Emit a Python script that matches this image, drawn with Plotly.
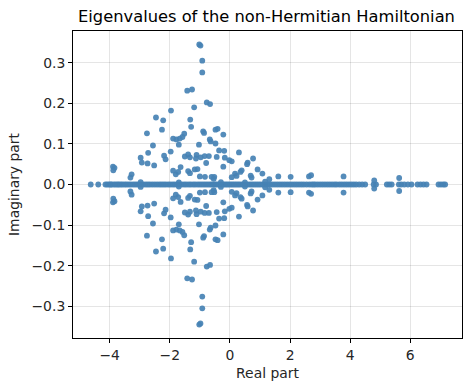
import plotly.graph_objects as go

# Real eigenvalues (imaginary part = 0)
real_eigs = [
    -4.63, -4.38,
    -4.14, -4.08, -4.02, -3.97, -3.93, -3.86, -3.80, -3.74, -3.69, -3.63, -3.57, -3.50,
    -3.44, -3.37, -3.30, -3.22, -3.15, -3.08, -3.01, -2.95, -2.88, -2.80, -2.73, -2.66,
    -2.58, -2.50, -2.42, -2.34, -2.27, -2.20, -2.13, -2.05, -1.98, -1.90, -1.83, -1.75,
    -1.68, -1.60, -1.52, -1.45, -1.37, -1.30, -1.22, -1.15, -1.07, -1.00, -0.93, -0.86,
    -0.79, -0.72, -0.65, -0.59, -0.52, -0.46, -0.40, -0.33, -0.27, -0.21, -0.15, -0.09,
    -0.03, 0.03, 0.09, 0.15, 0.21, 0.27, 0.33, 0.40, 0.46, 0.53, 0.60, 0.67, 0.74, 0.81,
    0.88, 0.95, 1.02, 1.10, 1.18, 1.26, 1.34, 1.42, 1.50, 1.58, 1.66, 1.74, 1.82, 1.90,
    1.98, 2.06, 2.14, 2.22, 2.30, 2.38, 2.46, 2.55, 2.64, 2.72,
    2.78, 2.84, 2.92, 3.00, 3.08, 3.16, 3.24, 3.32, 3.40, 3.48, 3.55, 3.64, 3.72, 3.80,
    3.88, 3.96, 4.04, 4.12, 4.20, 4.30, 4.40, 4.50,
    4.78, 4.86, 5.22, 5.30, 5.38, 5.62, 5.70, 5.80, 5.92, 6.04, 6.24, 6.34, 6.44, 6.54,
    6.94, 7.02, 7.10, 7.16,
]

# Complex eigenvalues, upper half-plane (conjugates mirrored below)
cplx_re = [
    -1.02, -0.98, -0.92, -0.92, -1.42, -1.26, -0.77, -0.66, -1.19, -1.96,
    -2.46, -2.22, -1.32, -1.29, -2.26, -2.76, -0.89, -0.86, -0.48, -0.41,
    -0.22, -1.52, -1.58, -1.89, -1.78, -1.67, -0.67, -0.64, -1.70, -1.03,
    -0.48, -2.56, -1.97, -0.36, -0.19, 0.30, -2.72, -2.97, -2.19, -2.14,
    -1.50, -1.39, -1.33, -1.11, -1.13, -0.97, -0.84, -0.70, -0.44, -0.17,
    -0.02, 0.06, 0.77, 0.59, 0.57, -2.93, -2.74, -2.52, -3.89, -3.84,
    -3.88, -1.64, -1.89, -1.80, -1.39, -1.33, -1.17, -1.08, -0.79, -0.22,
    -0.83, -0.52, -0.54, -3.27, -3.31, -2.97, 0.17, 0.22, 0.39, 0.35,
    0.69, 0.72, 0.92, 1.08, 1.31, 1.17, 1.61, 2.02, 2.63, 2.70,
    3.78, 4.80, 5.63, -1.72, -1.00, -0.61, 0.06, -1.70, -0.30, 0.50,
]
cplx_im = [
    0.345, 0.342, 0.305, 0.276, 0.231, 0.234, 0.202, 0.198, 0.190, 0.182,
    0.165, 0.158, 0.160, 0.142, 0.135, 0.126, 0.131, 0.127, 0.135, 0.137,
    0.123, 0.125, 0.117, 0.113, 0.111, 0.113, 0.111, 0.106, 0.098, 0.098,
    0.101, 0.096, 0.081, 0.084, 0.083, 0.079, 0.078, 0.066, 0.071, 0.062,
    0.069, 0.074, 0.067, 0.073, 0.064, 0.067, 0.070, 0.070, 0.068, 0.066,
    0.060, 0.057, 0.064, 0.054, 0.050, 0.054, 0.052, 0.047, 0.044, 0.041,
    0.035, 0.043, 0.034, 0.025, 0.033, 0.028, 0.037, 0.038, 0.053, 0.044,
    0.019, 0.019, 0.014, 0.025, 0.017, 0.006, 0.027, 0.021, 0.035, 0.031,
    0.022, 0.017, 0.037, 0.027, 0.013, 0.007, 0.020, 0.019, 0.020, 0.023,
    0.020, 0.010, 0.016, 0.031, 0.020, 0.019, 0.018, 0.005, 0.006, 0.005,
]

xs = real_eigs + cplx_re + cplx_re
ys = [0.0] * len(real_eigs) + cplx_im + [-v for v in cplx_im]

fig = go.Figure()
fig.add_trace(go.Scatter(
    x=xs, y=ys, mode="markers",
    marker=dict(color="#4682B4", size=5.8, opacity=0.92, line=dict(width=0)),
    showlegend=False, hoverinfo="skip",
))

font_family = "DejaVu Sans"
axis_common = dict(
    showline=True, linecolor="black", linewidth=1, mirror=True,
    ticks="outside", ticklen=4, tickwidth=1, tickcolor="black",
    showgrid=True, gridcolor="rgba(0,0,0,0.1)", gridwidth=1,
    zeroline=False, automargin=False,
    tickfont=dict(family=font_family, size=13.9, color="#262626"),
)

fig.update_layout(
    width=470, height=391,
    margin=dict(l=73, r=8, t=31, b=53, autoexpand=False),
    paper_bgcolor="white", plot_bgcolor="white",
    title=dict(
        text="Eigenvalues of the non-Hermitian Hamiltonian",
        x=(74 + 459) / 2 / 470, xanchor="center",
        y=1 - 16 / 391, yanchor="middle",
        font=dict(family=font_family, size=16.3, color="black"),
        automargin=False,
    ),
    xaxis=dict(
        range=[-5.22, 7.72],
        tickvals=[-4, -2, 0, 2, 4, 6],
        title=dict(text="Real part", font=dict(family=font_family, size=13.9, color="#262626"), standoff=6),
        **axis_common,
    ),
    yaxis=dict(
        range=[-0.378, 0.378],
        tickvals=[-0.3, -0.2, -0.1, 0.0, 0.1, 0.2, 0.3],
        tickformat=".1f",
        title=dict(text="Imaginary part", font=dict(family=font_family, size=13.9, color="#262626"), standoff=8),
        **axis_common,
    ),
)

fig.write_html(
    "out.html",
    config={"displayModeBar": False, "staticPlot": True},
    post_script="document.body.style.margin='0';document.body.style.overflow='hidden';",
)
